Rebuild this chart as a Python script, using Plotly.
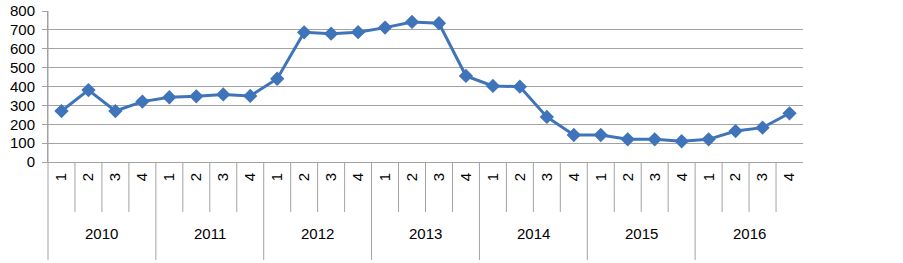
import plotly.graph_objects as go

years = ["2010", "2011", "2012", "2013", "2014", "2015", "2016"]
quarters = ["1", "2", "3", "4"]
values = [
    270, 381, 270, 320,
    343, 348, 358, 350,
    441, 687, 680, 688,
    712, 742, 735, 456,
    403, 399, 239, 143,
    143, 120, 120, 110,
    120, 164, 182, 258,
]
y_ticks = [0, 100, 200, 300, 400, 500, 600, 700, 800]

cats = [f"{y}-{q}" for y in years for q in quarters]
qlabels = [q for y in years for q in quarters]

GRID = "#a3a3a3"
FONT = "Liberation Sans, Arial, sans-serif"
W, H = 903, 263
L, R, T, B = 48, 100, 11, 101
plot_h = H - T - B

def py(pix):
    # convert pixel y (from top) to paper coords
    return (H - B - pix) / plot_h

fig = go.Figure()
fig.add_trace(go.Scatter(
    x=cats, y=values, mode="lines+markers",
    line=dict(color="#3F74BA", width=3),
    marker=dict(symbol="diamond", size=11, color="#3F74BA"),
    showlegend=False, cliponaxis=False,
))

shapes = []
# y axis line extended down through the label band
shapes.append(dict(type="line", xref="paper", yref="paper", x0=0, x1=0,
                   y0=1, y1=py(260), line=dict(color=GRID, width=1)))
n = len(cats)
for i in range(1, n):
    bottom = py(260) if i % 4 == 0 else py(212)
    shapes.append(dict(type="line", xref="x", yref="paper", x0=i - 0.5, x1=i - 0.5,
                       y0=0, y1=bottom, line=dict(color=GRID, width=1)))

annotations = []
for k, yr in enumerate(years):
    annotations.append(dict(x=4 * k + 1.5, y=py(233), xref="x", yref="paper",
                            text=yr, showarrow=False, xanchor="center", yanchor="middle",
                            font=dict(family=FONT, size=15, color="#000000")))

fig.update_layout(
    width=W, height=H,
    margin=dict(l=L, r=R, t=T, b=B, pad=0, autoexpand=False),
    paper_bgcolor="white", plot_bgcolor="white",
    shapes=shapes, annotations=annotations,
    xaxis=dict(
        type="category", categoryorder="array", categoryarray=cats,
        tickmode="array", tickvals=cats, ticktext=qlabels,
        tickangle=-90, tickfont=dict(family=FONT, size=15, color="#000000"),
        showgrid=False, showline=True, linecolor=GRID, linewidth=1,
        ticks="", ticklabelstandoff=4, range=[-0.5, n - 0.5], zeroline=False,
        automargin=False,
    ),
    yaxis=dict(
        range=[0, 800], tickvals=y_ticks, ticktext=[str(v) for v in y_ticks],
        showgrid=True, gridcolor=GRID, gridwidth=1,
        ticks="outside", ticklen=5, tickcolor=GRID,
        showline=True, linecolor=GRID, linewidth=1,
        tickfont=dict(family=FONT, size=15, color="#000000"),
        ticklabelstandoff=4, zeroline=False, automargin=False,
    ),
)

fig.write_html(
    "out.html",
    config={"displayModeBar": False},
    post_script="document.body.style.margin='0';document.body.style.overflow='hidden';",
)
